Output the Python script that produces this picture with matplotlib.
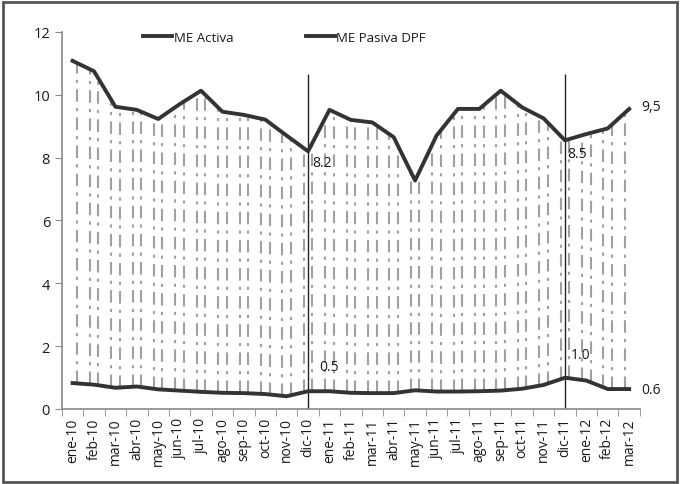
import numpy as np
import matplotlib
matplotlib.use("Agg")
import matplotlib.pyplot as plt
from matplotlib.patches import Rectangle

# datos
meses = ['ene-10', 'feb-10', 'mar-10', 'abr-10', 'may-10', 'jun-10', 'jul-10',
         'ago-10', 'sep-10', 'oct-10', 'nov-10', 'dic-10',
         'ene-11', 'feb-11', 'mar-11', 'abr-11', 'may-11', 'jun-11', 'jul-11',
         'ago-11', 'sep-11', 'oct-11', 'nov-11', 'dic-11',
         'ene-12', 'feb-12', 'mar-12']
me_activa = [11.08, 10.75, 9.62, 9.52, 9.23, 9.70, 10.13, 9.46, 9.36, 9.21, 8.70, 8.20,
             9.52, 9.20, 9.12, 8.65, 7.27, 8.70, 9.55, 9.55, 10.13, 9.60, 9.25, 8.55,
             8.75, 8.93, 9.55]
me_pasiva = [0.82, 0.77, 0.67, 0.71, 0.62, 0.58, 0.54, 0.51, 0.50, 0.47, 0.40, 0.56,
             0.56, 0.51, 0.50, 0.50, 0.59, 0.55, 0.55, 0.56, 0.58, 0.64, 0.76, 0.99,
             0.90, 0.63, 0.63]
etiquetas = [(11, me_activa, '8.2', (3, -3), 'top'),
             (11, me_pasiva, '0.5', (8, 18), 'center'),
             (23, me_activa, '8.5', (2, -4), 'top'),
             (23, me_pasiva, '1.0', (4, 17), 'center'),
             (26, me_activa, '9,5', (9, 2), 'center'),
             (26, me_pasiva, '0.6', (9, 0), 'center')]

plt.rcParams['font.family'] = ['Open Sans', 'DejaVu Sans']
plt.rcParams['text.color'] = '#1a1a1a'
plt.rcParams['xtick.labelcolor'] = '#1a1a1a'
plt.rcParams['ytick.labelcolor'] = '#1a1a1a'

fig = plt.figure(figsize=(6.8, 4.85), dpi=100)
ax = fig.add_axes([0.091, 0.155, 0.85, 0.777])

x = np.arange(len(meses))
act = np.array(me_activa)
pas = np.array(me_pasiva)

# rayado vertical entre las dos series
for off in (-0.2, 0.2):
    xs = x + off
    xs = xs[(xs >= 0) & (xs <= x[-1])]
    top = np.interp(xs, x, act)
    bot = np.interp(xs, x, pas)
    ax.vlines(xs, bot, top, colors='#a0a0a0', linewidth=1.5,
              linestyles=(0, (6, 3, 1.5, 3)), zorder=1)

ax.plot(x, act, color='#333333', linewidth=2.8, label='ME Activa', zorder=3)
ax.plot(x, pas, color='#333333', linewidth=2.8, label='ME Pasiva DPF', zorder=3)

# líneas de fin de año
for i in (11, 23):
    ax.vlines(i, 0, 10.65, colors='#222222', linewidth=1.0, zorder=2)

for i, serie, txt, off, va in etiquetas:
    ax.annotate(txt, (x[i], serie[i]), xytext=off, textcoords='offset points',
                ha='left', va=va, fontsize=10)

ax.set_xlim(-0.5, len(meses) - 0.5)
ax.set_ylim(0, 12)
ax.set_yticks(range(0, 13, 2))
ax.set_xticks(x)
ax.set_xticklabels(meses, rotation=90, fontsize=10)
ax.set_xticks(np.arange(-0.5, len(meses), 1), minor=True)
ax.tick_params(axis='x', which='major', length=0, pad=6)
ax.tick_params(axis='x', which='minor', length=5, color='#8a8a8a')
ax.tick_params(axis='y', length=5, color='#8a8a8a', labelsize=10.5)

for s in ('top', 'right'):
    ax.spines[s].set_visible(False)
for s in ('left', 'bottom'):
    ax.spines[s].set_color('#8a8a8a')
    ax.spines[s].set_linewidth(1.2)

ax.legend(loc='upper center', bbox_to_anchor=(0.385, 1.035), ncol=2, frameon=False,
          fontsize=9.5, handlelength=2.2, handletextpad=0.1, columnspacing=5.5)

# marco de la imagen
fig.patches.append(Rectangle((0.004, 0.004), 0.992, 0.99, transform=fig.transFigure,
                             fill=False, edgecolor='#555555', linewidth=2))

fig.savefig('out.png', dpi=100)
